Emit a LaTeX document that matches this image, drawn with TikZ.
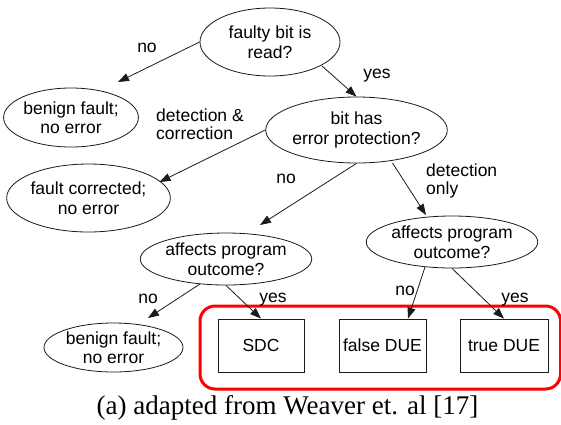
\documentclass[tikz,border=0pt]{standalone}
\usepackage{fontspec}
\setmainfont{Liberation Sans}
\newfontfamily\capfont{Liberation Serif}
\usepackage{xcolor}
\definecolor{alarm}{HTML}{FF0000}
\definecolor{edge}{HTML}{1A1A1A}
\usepackage{tikz}
\usetikzlibrary{arrows.meta,shapes.geometric}

\begin{document}
\begin{tikzpicture}[
  x=1pt,y=-1pt,
  decision/.style={draw=edge,ellipse,inner sep=0pt,line width=0.8pt,align=center,font=\fontsize{17.5}{19.5}\selectfont},
  result/.style={draw=edge,rectangle,inner sep=0pt,line width=0.8pt,minimum width=86pt,minimum height=53pt,font=\fontsize{17.5}{19.5}\selectfont},
  lbl/.style={inner sep=0pt,align=left,font=\fontsize{17.5}{18.5}\selectfont},
  arrow/.style={-{Triangle[length=11pt,width=8pt]},draw=edge,line width=0.8pt},
  group/.style={draw=alarm,line width=3pt,rounded corners=15pt}
]
\useasboundingbox (0,0) rectangle (561,424);

% decisions
\node[decision,minimum width=140pt,minimum height=68pt] (faulty) at (270,42) {faulty bit is\\read?};
\node[decision,minimum width=173pt,minimum height=66pt] (bit) at (356.5,130) {bit has\\error protection?};
\node[decision,minimum width=156pt,minimum height=52pt] (affL) at (226,259) {affects program\\outcome?};
\node[decision,minimum width=156pt,minimum height=52pt] (affR) at (452,242) {affects program\\outcome?};

% harmless outcomes
\node[decision,minimum width=122pt,minimum height=59pt] (benignA) at (71,117.5) {benign fault;\\no error};
\node[decision,minimum width=157pt,minimum height=68pt] (corrected) at (88.5,198) {fault corrected;\\no error};
\node[decision,minimum width=139pt,minimum height=49pt] (benignB) at (113.5,347.5) {benign fault;\\no error};

% failures
\draw[group] (200,306) rectangle (560.5,389);
\node[result] (sdc) at (261,345.5) {SDC};
\node[result,minimum width=87pt] (falsedue) at (382.5,345.5) {false DUE};
\node[result,minimum width=88pt] (truedue) at (504,345.5) {true DUE};

% edges
\draw[arrow] (faulty.west) -- ([shift={(47pt,35.5pt)}]benignA.center);
\draw[arrow] ([shift={(52pt,-24pt)}]faulty.center) -- (bit.north);
\draw[arrow] (bit.west) -- ([shift={(71pt,16pt)}]corrected.center);
\draw[arrow] (bit.south) -- ([shift={(34pt,34pt)}]affL.center);
\draw[arrow] ([shift={(36pt,-33pt)}]bit.center) -- ([shift={(-26pt,27pt)}]affR.center);
\draw[arrow] ([shift={(-26pt,-25pt)}]affL.center) -- ([shift={(34.5pt,29.5pt)}]benignB.center);
\draw[arrow] (affL.south) -- (sdc.north);
\draw[arrow] ([shift={(-27pt,-25pt)}]affR.center) -- ([xshift=25.5pt]falsedue.north);
\draw[arrow] (affR.south) -- (truedue.north);

% edge labels
\node[lbl] (noA) at (147,48) {no};
\node[lbl] (yesA) at (377,76) {yes};
\node[lbl,anchor=west] (dc) at (156,124) {detection \&\\correction};
\node[lbl] (noB) at (286,179) {no};
\node[lbl,anchor=west] (donly) at (426,181) {detection\\only};
\node[lbl] (noC) at (148,299) {no};
\node[lbl] (yesC) at (273,300) {yes};
\node[lbl] (noD) at (405,291) {no};
\node[lbl] (yesD) at (515,300) {yes};

% caption
\node[inner sep=0pt,anchor=base,font=\capfont\fontsize{27}{30}\selectfont] (cap) at (287.5,414) {(a) adapted from Weaver et. al [17]};
\end{tikzpicture}
\end{document}
